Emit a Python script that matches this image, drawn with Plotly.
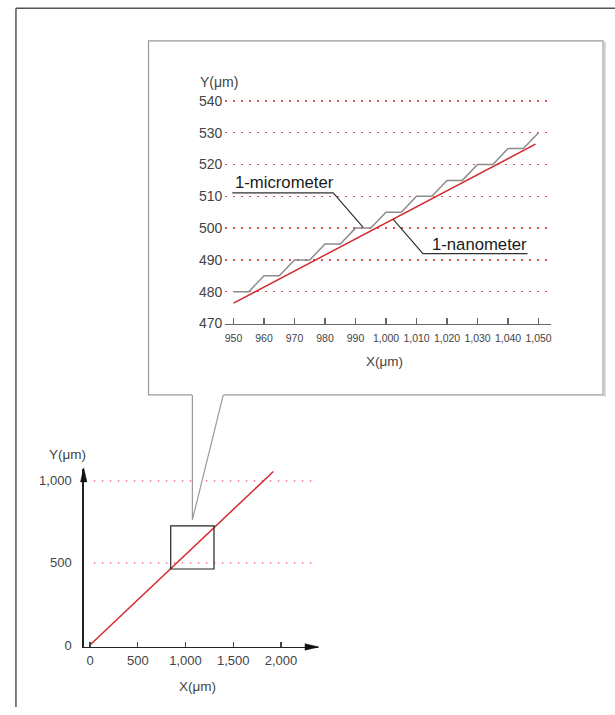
import plotly.graph_objects as go

W, H = 615, 715

# ---------------- data ----------------
# main (overview) chart
main_x = [0, 1920]
main_y = [0, 1057]
main_xticks = [0, 500, 1000, 1500, 2000]
main_xticklabels = ["0", "500", "1,000", "1,500", "2,000"]
main_yticks = [0, 500, 1000]
main_yticklabels = ["0", "500", "1,000"]
main_grid_y = [500, 1000]
zoom_box_x = [845, 1298]
zoom_box_y = [463, 726]

# inset (zoomed) chart
step_x = [950, 955, 960, 965, 970, 975, 980, 985, 990, 995, 1000,
          1005, 1010, 1015, 1020, 1025, 1030, 1035, 1040, 1045, 1050]
step_y = [480, 480, 485, 485, 490, 490, 495, 495, 500, 500, 505,
          505, 510, 510, 515, 515, 520, 520, 525, 525, 530]
nano_x = [950, 1049]
nano_y = [476.4, 526.4]
inset_xticks = list(range(950, 1051, 10))
inset_xticklabels = ["950", "960", "970", "980", "990", "1,000", "1,010",
                     "1,020", "1,030", "1,040", "1,050"]
inset_yticks = list(range(470, 541, 10))
inset_yticklabels = [str(v) for v in inset_yticks]

# leader lines for labels (inset data coords)
micro_leader_x = [949.6, 982.7, 992.5]
micro_leader_y = [511.1, 511.1, 500.2]
nano_leader_x = [1046.4, 1012.1, 1002.3]
nano_leader_y = [492.0, 492.0, 502.8]

RED = "#d42a2f"
GRAY_STEP = "#8c8c8c"
DOT = "#e0505a"
TXT = "#444444"
FONT = "Liberation Sans, Arial, sans-serif"

# the photographed page is slightly compressed vertically; compensate
VS, VOFF = 0.983, 3.2


def px(x):
    return x / W


def py(t):
    return 1 - ((t - VOFF) / VS) / H


def path(points, close=False):
    s = "M" + " L".join(f"{px(a):.5f},{py(b):.5f}" for a, b in points)
    return s + (" Z" if close else "")


fig = go.Figure()
fig.add_trace(go.Scatter(x=main_x, y=main_y, mode="lines",
                         line=dict(color=RED, width=1.5),
                         xaxis="x", yaxis="y", hoverinfo="skip"))
fig.add_trace(go.Scatter(x=step_x, y=step_y, mode="lines",
                         line=dict(color=GRAY_STEP, width=1.5),
                         xaxis="x2", yaxis="y2", hoverinfo="skip"))
fig.add_trace(go.Scatter(x=nano_x, y=nano_y, mode="lines",
                         line=dict(color=RED, width=1.5),
                         xaxis="x2", yaxis="y2", hoverinfo="skip"))

shapes = []
# callout box (below the inset plot)
shapes.append(dict(type="path", xref="paper", yref="paper", layer="below",
                   path=path([(148, 40), (604, 40), (604, 394), (148, 394)], True),
                   fillcolor="white", line=dict(color="#9a9a9a", width=1.2)))
shapes.append(dict(type="line", xref="paper", yref="paper", layer="below",
                   x0=px(605.6), x1=px(605.6), y0=py(41), y1=py(395.5),
                   line=dict(color="#cfcfcf", width=2.2)))
# dotted guide lines in main chart
for gy in main_grid_y:
    shapes.append(dict(type="line", xref="x", yref="y", layer="below",
                       x0=40, x1=2320, y0=gy, y1=gy,
                       line=dict(color=DOT, width=1.4, dash="1.4px,6.6px")))
# callout pointer
shapes.append(dict(type="path", xref="paper", yref="paper", layer="above",
                   path=path([(191.6, 393), (223.2, 393), (192.2, 519.5)], True),
                   fillcolor="white", line=dict(width=0)))
shapes.append(dict(type="path", xref="paper", yref="paper", layer="above",
                   path=path([(192, 394), (192, 519), (223, 394)]),
                   line=dict(color="#9a9a9a", width=1.2)))
# zoom box in main chart
shapes.append(dict(type="rect", xref="x", yref="y", layer="above",
                   x0=zoom_box_x[0], x1=zoom_box_x[1],
                   y0=zoom_box_y[0], y1=zoom_box_y[1],
                   line=dict(color="#222222", width=1.2)))
# axis arrowheads
shapes.append(dict(type="path", xref="paper", yref="paper", layer="above",
                   path=path([(83, 467), (86.2, 481), (79.8, 481)], True),
                   fillcolor="#111111", line=dict(color="#111111", width=0.5)))
shapes.append(dict(type="path", xref="paper", yref="paper", layer="above",
                   path=path([(319, 646), (305, 642.8), (305, 649.2)], True),
                   fillcolor="#111111", line=dict(color="#111111", width=0.5)))
# outer frame (top & left)
shapes.append(dict(type="line", xref="paper", yref="paper", layer="above",
                   x0=px(15), x1=px(616), y0=py(7.5), y1=py(7.5),
                   line=dict(color="#555555", width=1.5)))
shapes.append(dict(type="line", xref="paper", yref="paper", layer="above",
                   x0=px(15), x1=px(15), y0=py(7.5), y1=0,
                   line=dict(color="#555555", width=1.5)))
# leader lines in inset
for lx, ly in ((micro_leader_x, micro_leader_y), (nano_leader_x, nano_leader_y)):
    shapes.append(dict(type="path", xref="x2", yref="y2", layer="above",
                       path="M" + " L".join(f"{a},{b}" for a, b in zip(lx, ly)),
                       line=dict(color="#333333", width=1.2)))

annotations = [
    dict(text="1-micrometer", xref="x2", yref="y2", x=micro_leader_x[0] + 0.1,
         y=514.3, xanchor="left", yanchor="middle", showarrow=False,
         font=dict(family=FONT, size=16.7, color="#1a1a1a")),
    dict(text="1-nanometer", xref="x2", yref="y2", x=1014.3, y=495.0,
         xanchor="left", yanchor="middle", showarrow=False,
         font=dict(family=FONT, size=16.7, color="#1a1a1a")),
    dict(text="Y(μm)", xref="paper", yref="paper", x=px(219), y=py(80.7),
         xanchor="center", yanchor="middle", showarrow=False,
         font=dict(family=FONT, size=14, color=TXT)),
    dict(text="X(μm)", xref="paper", yref="paper", x=px(385), y=py(361),
         xanchor="center", yanchor="middle", showarrow=False,
         font=dict(family=FONT, size=13.5, color=TXT)),
    dict(text="Y(μm)", xref="paper", yref="paper", x=px(66.7), y=py(454),
         xanchor="center", yanchor="middle", showarrow=False,
         font=dict(family=FONT, size=13.5, color=TXT)),
    dict(text="X(μm)", xref="paper", yref="paper", x=px(196.7), y=py(686),
         xanchor="center", yanchor="middle", showarrow=False,
         font=dict(family=FONT, size=13.5, color=TXT)),
]

# axis ranges derived from pixel layout
main_xr = [-66, 2387]
main_yr = [-12.2, 1073]
inset_xr = [947.3, 1054.05]
inset_yr = [470, 541.26]

fig.update_layout(
    width=W, height=H, autosize=False,
    margin=dict(l=0, r=0, t=0, b=0),
    paper_bgcolor="white", plot_bgcolor="rgba(0,0,0,0)",
    showlegend=False,
    font=dict(family=FONT, color=TXT),
    shapes=shapes, annotations=annotations,
    xaxis=dict(domain=[px(83), px(318)], range=main_xr, anchor="y",
               tickvals=main_xticks, ticktext=main_xticklabels,
               ticks="inside", ticklen=5, tickwidth=1.2, tickcolor="#444444",
               showline=True, linecolor="#222222", linewidth=1.5,
               showgrid=False, zeroline=False, tickangle=0,
               ticklabelstandoff=1,
               tickfont=dict(family=FONT, size=13, color=TXT)),
    yaxis=dict(domain=[py(646), py(468)], range=main_yr, anchor="x",
               tickvals=main_yticks, ticktext=main_yticklabels,
               ticks="", ticklabelstandoff=8,
               showline=True, linecolor="#222222", linewidth=1.5,
               showgrid=False, zeroline=False,
               tickfont=dict(family=FONT, size=13, color=TXT)),
    xaxis2=dict(domain=[px(225), px(551.7)], range=inset_xr, anchor="y2",
                tickvals=inset_xticks, ticktext=inset_xticklabels,
                ticks="inside", ticklen=6, tickwidth=1.1, tickcolor="#666666",
                showline=True, linecolor="#666666", linewidth=1.3,
                showgrid=False, zeroline=False, tickangle=0,
                ticklabelstandoff=5,
                tickfont=dict(family=FONT, size=10.5, color=TXT)),
    yaxis2=dict(domain=[py(322.7), py(96)], range=inset_yr, anchor="x2",
                tickvals=inset_yticks, ticktext=inset_yticklabels,
                ticks="", ticklabelstandoff=2,
                showline=False, showgrid=True, gridcolor=DOT, gridwidth=1.4,
                griddash="1.4px,6.6px", zeroline=False,
                tickfont=dict(family=FONT, size=14, color=TXT)),
)

fig.write_html(
    "out.html",
    config={"displayModeBar": False, "staticPlot": True},
    post_script=(
        "var s=document.createElement('style');"
        "s.textContent='html,body{margin:0!important;padding:0!important;"
        "overflow:hidden!important;}';"
        "document.head.appendChild(s);"
    ),
)
